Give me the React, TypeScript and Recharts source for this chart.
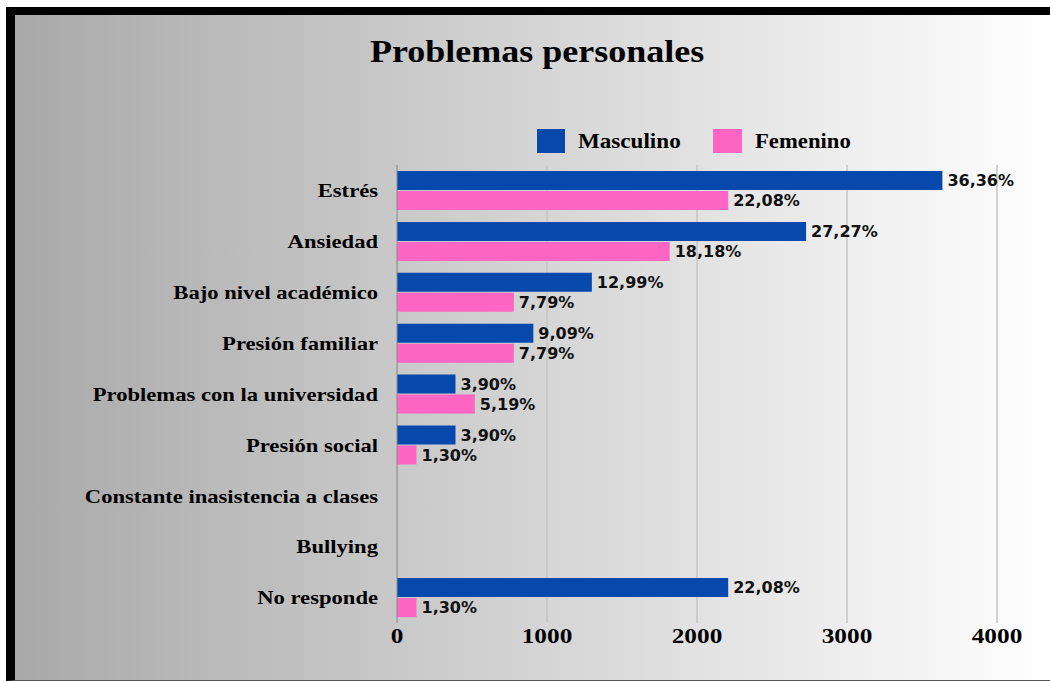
import React from "react"
import { BarChart, Bar, XAxis, YAxis, CartesianGrid, LabelList } from "recharts"

const categories = [
	"Estrés",
	"Ansiedad",
	"Bajo nivel académico",
	"Presión familiar",
	"Problemas con la universidad",
	"Presión social",
	"Constante inasistencia a clases",
	"Bullying",
	"No responde",
]
// bar lengths as drawn on the 0-4000 axis (percent x 100)
const masculino = [3636, 2727, 1299, 909, 390, 390, 0, 0, 2208]
const femenino = [2208, 1818, 779, 779, 519, 130, 0, 0, 130]
const xTicks = [0, 1000, 2000, 3000, 4000]

const data = categories.map((name, i) => ({ name, masculino: masculino[i], femenino: femenino[i] }))

const BLUE = "#0748ad"
const PINK = "#ff66c4"
const SERIF = "'Liberation Serif', 'Times New Roman', serif"

const pct = (v: any) => {
	const n = Number(v)
	if (!n) return ""
	return (n / 100).toFixed(2).replace(".", ",") + "%"
}

const labelStyle = { fontFamily: "'DejaVu Sans', Verdana, sans-serif", fontWeight: 700, fontSize: 16, fill: "#111" }

// the reference text is a little wider than the installed serif, so stretch it sideways
const CategoryTick = ({ x, y, payload }: any) => (
	<text
		transform={`translate(${x},${y}) scale(1.19,1)`}
		textAnchor="end"
		dy="0.355em"
		fontFamily={SERIF}
		fontWeight={700}
		fontSize={19}
		fill="#000"
	>
		{payload.value}
	</text>
)

const ValueTick = ({ x, y, payload }: any) => (
	<text
		transform={`translate(${x},${y}) scale(1.15,1)`}
		textAnchor="middle"
		dy="0.71em"
		fontFamily={SERIF}
		fontWeight={700}
		fontSize={22}
		fill="#000"
	>
		{payload.value}
	</text>
)

const serifText = (fontSize: number, stretch: number): React.CSSProperties => ({
	fontFamily: SERIF,
	fontWeight: 700,
	fontSize,
	color: "#000",
	transform: `scaleX(${stretch})`,
	transformOrigin: "left center",
	whiteSpace: "nowrap",
})

export default function App() {
	return (
		<div style={{ position: "fixed", left: 0, top: 0, width: 1050, height: 681, background: "#fff", overflow: "hidden" }}>
			<div
				style={{
					position: "absolute",
					left: 6,
					top: 7,
					width: 1044,
					height: 674,
					boxSizing: "border-box",
					borderTop: "8px solid #000",
					borderLeft: "9px solid #000",
					borderBottom: "1px solid #555",
					background: "linear-gradient(to right, #a9a9a9, #d4d4d4 50%, #ffffff)",
				}}
			/>
			<div style={{ position: "absolute", left: 370, top: 35, lineHeight: "32px", ...serifText(32, 1.125) }}>
				Problemas personales
			</div>
			<div style={{ position: "absolute", left: 537, top: 129, width: 28, height: 24, background: BLUE }} />
			<div style={{ position: "absolute", left: 578, top: 129, lineHeight: "24px", ...serifText(21, 1.1) }}>Masculino</div>
			<div style={{ position: "absolute", left: 713, top: 129, width: 29, height: 24, background: PINK }} />
			<div style={{ position: "absolute", left: 755, top: 129, lineHeight: "24px", ...serifText(21, 1.08) }}>Femenino</div>
			<div style={{ position: "absolute", left: 0, top: 0 }}>
				<BarChart
					width={1050}
					height={681}
					data={data}
					layout="vertical"
					margin={{ top: 165, right: 53, bottom: 0, left: 0 }}
					barCategoryGap={6}
					barGap={1}
				>
					<CartesianGrid horizontal={false} stroke="#c4c4c4" strokeWidth={1.5} />
					<XAxis
						type="number"
						domain={[0, 4000]}
						ticks={xTicks}
						height={58}
						axisLine={false}
						tickLine={false}
						tickSize={0}
						tickMargin={4}
						tick={<ValueTick />}
					/>
					<YAxis
						type="category"
						dataKey="name"
						width={397}
						axisLine={{ stroke: "#8a8a8a" }}
						tickLine={false}
						tickSize={0}
						tickMargin={19}
						interval={0}
						tick={<CategoryTick />}
					/>
					<Bar dataKey="masculino" fill={BLUE} barSize={19} isAnimationActive={false}>
						<LabelList dataKey="masculino" position="right" offset={5} formatter={pct} style={labelStyle} />
					</Bar>
					<Bar dataKey="femenino" fill={PINK} barSize={19} isAnimationActive={false}>
						<LabelList dataKey="femenino" position="right" offset={5} formatter={pct} style={labelStyle} />
					</Bar>
				</BarChart>
			</div>
		</div>
	)
}
